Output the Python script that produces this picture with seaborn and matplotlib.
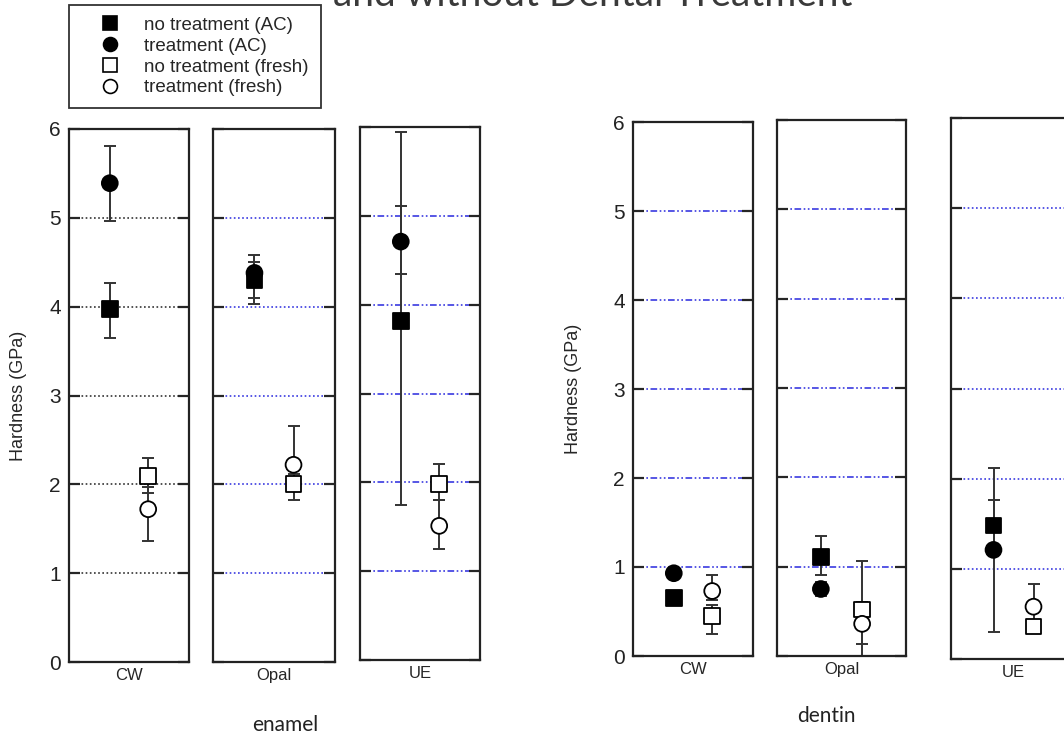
import matplotlib
matplotlib.use("Agg")
import matplotlib.pyplot as plt
import seaborn as sns
import pandas as pd
from matplotlib.lines import Line2D

# данные (GPa)
materials = ["CW", "Opal", "UE"]
groups = ["no treatment (AC)", "treatment (AC)", "no treatment (fresh)", "treatment (fresh)"]

# порядок: CW(4 группы), Opal(4 группы), UE(4 группы)
enamel_mean = [3.97, 5.39, 2.09, 1.72, 4.30, 4.38, 2.00, 2.22, 3.82, 4.71, 1.98, 1.51]
enamel_low = [3.65, 4.96, 1.90, 1.36, 4.03, 4.10, 1.82, 2.05, 1.74, 4.34, 1.80, 1.25]
enamel_high = [4.27, 5.81, 2.30, 1.97, 4.58, 4.50, 2.12, 2.66, 5.94, 5.11, 2.21, 1.80]

dentin_mean = [0.65, 0.93, 0.45, 0.73, 1.11, 0.75, 0.52, 0.36, 1.48, 1.21, 0.36, 0.58]
dentin_low = [0.62, 0.88, 0.25, 0.63, 0.91, 0.67, 0.00, 0.13, 1.20, 0.30, 0.32, 0.40]
dentin_high = [0.68, 0.98, 0.57, 0.91, 1.34, 0.83, 1.06, 0.60, 1.76, 2.12, 0.40, 0.83]

rows = []
for tissue, mean, low, high in [("enamel", enamel_mean, enamel_low, enamel_high),
                                ("dentin", dentin_mean, dentin_low, dentin_high)]:
    for i, v in enumerate(mean):
        rows.append({"tissue": tissue, "material": materials[i // 4], "group": groups[i % 4],
                     "value": v, "low": low[i], "high": high[i]})
df = pd.DataFrame(rows)
df["xpos"] = df["group"].map({groups[0]: 0, groups[1]: 0, groups[2]: 1, groups[3]: 1})

sns.set_style("white")
plt.rcParams["font.family"] = ["Liberation Sans", "DejaVu Sans"]

W, H = 1064, 740
fig = plt.figure(figsize=(W / 100, H / 100), dpi=100)

markers = {groups[0]: "s", groups[1]: "o", groups[2]: "s", groups[3]: "o"}
palette = {groups[0]: "black", groups[1]: "black", groups[2]: "white", groups[3]: "white"}

blue = "#3a3ae0"
dotted = (0, (1, 1.5))
dashdotdot = (0, (4, 1.5, 1, 1.5, 1, 1.5))
# пиксельные рамки панелей: x0, x1, верх, низ, стиль сетки
panels = [
    ("enamel", "CW", 69, 189, 129, 662, "#333333", dotted),
    ("enamel", "Opal", 213, 335, 129, 662, blue, dotted),
    ("enamel", "UE", 360, 480, 127, 660, blue, dashdotdot),
    ("dentin", "CW", 633, 753, 122, 656, blue, dashdotdot),
    ("dentin", "Opal", 777, 906, 120, 656, blue, dashdotdot),
    ("dentin", "UE", 951, 1076, 118, 659, blue, dotted),
]

for tissue, mat, x0, x1, yt, yb, gcol, gls in panels:
    ax = fig.add_axes([x0 / W, 1 - yb / H, (x1 - x0) / W, (yb - yt) / H])
    sub = df[(df["tissue"] == tissue) & (df["material"] == mat)]
    for _, r in sub.iterrows():
        ax.errorbar(r["xpos"], r["value"], yerr=[[r["value"] - r["low"]], [r["high"] - r["value"]]],
                    fmt="none", ecolor="#333333", elinewidth=1.4, capsize=4, capthick=1.4, zorder=2)
    sns.scatterplot(data=sub, x="xpos", y="value", hue="group", style="group", palette=palette,
                    markers=markers, s=130, edgecolor="black", linewidth=1.3, legend=False,
                    ax=ax, zorder=3)
    ax.set_xlim(-1.0625, 2.0625)
    ax.set_ylim(0, 6)
    ax.set_yticks(range(7))
    ax.yaxis.grid(True, color=gcol, linestyle=gls, linewidth=1.2)
    ax.set_axisbelow(True)
    ax.set_xticks([])
    ax.set_xlabel(mat, fontsize=12, labelpad=4)
    ax.tick_params(axis="y", direction="in", length=8, width=1.6, left=True, right=True,
                   labelsize=15, pad=6, labelleft=(mat == "CW"), labelcolor="#222222")
    for s in ax.spines.values():
        s.set_color("#222222")
        s.set_linewidth(1.6)
    if mat == "CW":
        ax.set_ylabel("Hardness (GPa)", fontsize=13, labelpad=16 if tissue == "enamel" else 22)
    else:
        ax.set_ylabel("")

fig.text(285 / W, 1 - 725 / H, "enamel", fontsize=15, family=["Lato", "DejaVu Sans"],
         ha="center", va="center", color="#222222")
fig.text(826 / W, 1 - 716 / H, "dentin", fontsize=15, family=["Lato", "DejaVu Sans"],
         ha="center", va="center", color="#222222")
# заголовок обрезан сверху, как на исходной картинке
fig.text(333 / W, 1 - 6 / H, "and without Dental Treatment", fontsize=28,
         family=["Lato", "DejaVu Sans"], color="#3a3a3a", va="baseline", ha="left")

handles = [Line2D([], [], marker=markers[g], linestyle="none", markersize=10,
                  markerfacecolor=palette[g], markeredgecolor="black", markeredgewidth=1.2)
           for g in groups]
leg = fig.legend(handles, groups, loc="upper left", bbox_to_anchor=(69 / W, 1 - 5 / H),
                 fontsize=13.5, frameon=True, fancybox=False, labelspacing=0.2,
                 handletextpad=0.3, handlelength=3.1, borderpad=0.62, borderaxespad=0)
leg.get_frame().set_edgecolor("black")
leg.get_frame().set_linewidth(1.3)

fig.savefig("out.png", dpi=100)
